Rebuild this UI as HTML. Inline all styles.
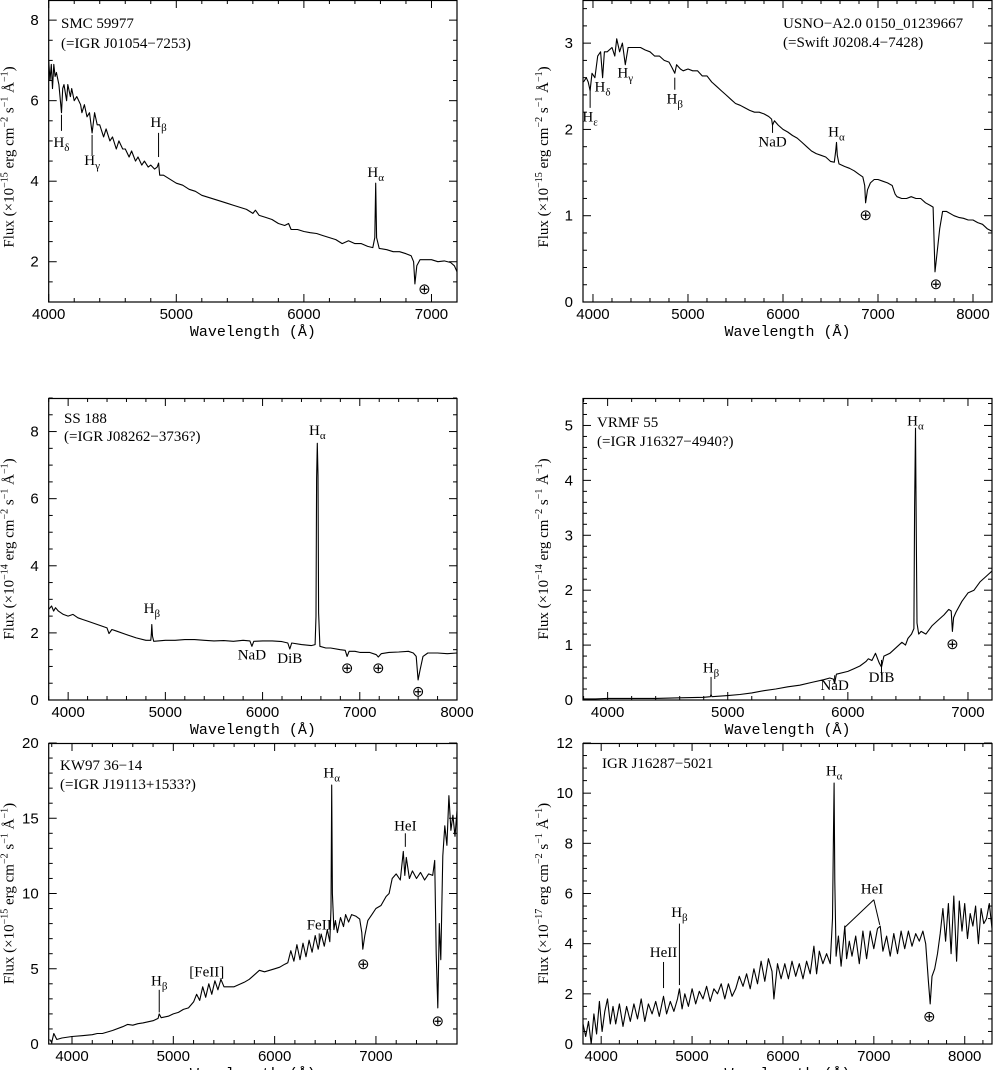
<!DOCTYPE html>
<html><head><meta charset="utf-8">
<style>
html,body{margin:0;padding:0;background:#fff;}
svg{display:block;}
text{font-family:"Liberation Serif",serif;fill:#000;}
.tk{font-size:15px;font-family:"Liberation Sans",sans-serif;}
.ti{font-size:15px;font-family:"Liberation Serif",serif;}
.yt{font-size:15px;font-family:"Liberation Serif",serif;}
.an{font-size:15px;font-family:"Liberation Serif",serif;}
.ax{font-size:15px;font-family:"Liberation Mono",monospace;}
</style></head>
<body>
<svg id="fig" width="993" height="1070" viewBox="0 0 993 1070" xmlns="http://www.w3.org/2000/svg"></svg>
<script>
// ---- Panel 1: SMC 59977 ----
const p1Wave = [4000,4010,4020,4030,4040,4050,4060,4080,4100,4110,4120,4140,4150,4170,4180,4200,4220,4250,4260,4280,4300,4320,4340,4360,4380,4400,4430,4450,4480,4500,4530,4550,4580,4600,4630,4650,4680,4700,4730,4750,4780,4800,4830,4850,4861,4870,4900,4950,5000,5050,5100,5150,5200,5250,5300,5350,5400,5450,5500,5550,5600,5620,5650,5700,5750,5800,5850,5880,5900,5950,6000,6050,6100,6150,6200,6250,6300,6350,6400,6450,6500,6540,6556,6563,6570,6590,6650,6700,6750,6800,6840,6860,6870,6885,6910,6950,7000,7050,7100,7150,7180,7200];
const p1Flux = [7.0,6.5,6.9,6.3,6.9,6.6,6.7,6.4,5.7,6.3,6.4,6.0,6.4,6.1,6.3,6.0,6.1,5.9,5.7,5.9,5.6,5.7,5.2,5.7,5.4,5.4,5.1,5.3,5.0,5.1,4.8,5.0,4.8,4.8,4.6,4.75,4.5,4.6,4.4,4.5,4.35,4.4,4.3,4.35,4.45,4.15,4.15,4.05,3.95,3.9,3.8,3.75,3.65,3.6,3.55,3.5,3.45,3.4,3.35,3.3,3.2,3.28,3.15,3.1,3.05,2.95,2.9,2.95,2.8,2.8,2.75,2.72,2.7,2.65,2.6,2.55,2.45,2.52,2.45,2.45,2.38,2.35,2.6,3.95,2.6,2.33,2.3,2.25,2.25,2.2,2.15,2.0,1.45,1.9,2.05,2.05,2.05,2.0,2.02,1.98,1.9,1.75];
// ---- Panel 2: USNO-A2.0 ----
const p2Wave = [3900,3930,3950,3970,3990,4020,4050,4080,4101,4120,4150,4200,4230,4250,4280,4310,4340,4370,4400,4450,4500,4550,4600,4650,4700,4750,4800,4830,4861,4880,4920,4950,5000,5050,5100,5150,5200,5250,5300,5350,5400,5450,5500,5550,5600,5650,5700,5750,5800,5850,5880,5890,5910,5950,6000,6050,6100,6150,6200,6250,6300,6350,6400,6450,6500,6540,6555,6563,6572,6590,6650,6700,6750,6800,6840,6860,6870,6890,6920,6960,7000,7050,7100,7150,7180,7200,7250,7300,7350,7400,7450,7500,7550,7580,7600,7620,7650,7680,7720,7800,7850,7900,7950,8000,8050,8100,8150,8200];
const p2Flux = [2.55,2.6,2.55,2.45,2.65,2.6,2.85,2.9,2.6,2.9,2.9,2.95,2.85,3.05,2.9,3.0,2.75,2.95,2.95,2.95,2.95,2.92,2.9,2.85,2.85,2.8,2.78,2.72,2.65,2.75,2.7,2.68,2.7,2.68,2.68,2.62,2.62,2.55,2.5,2.45,2.4,2.35,2.3,2.28,2.25,2.22,2.2,2.2,2.18,2.15,2.12,2.05,2.1,2.05,2.0,1.97,1.93,1.9,1.85,1.8,1.75,1.72,1.7,1.68,1.63,1.62,1.75,1.85,1.7,1.6,1.57,1.55,1.52,1.48,1.45,1.35,1.15,1.3,1.38,1.42,1.42,1.4,1.38,1.35,1.25,1.22,1.2,1.2,1.22,1.2,1.2,1.15,1.12,1.1,0.35,0.55,0.85,1.05,1.05,1.0,0.98,0.97,0.95,0.95,0.92,0.9,0.85,0.82];
// ---- Panel 3: SS 188 ----
const p3Wave = [3800,3830,3850,3870,3900,3950,4000,4050,4100,4150,4200,4300,4400,4420,4450,4500,4600,4700,4800,4850,4855,4861,4868,4880,5000,5100,5200,5300,5400,5500,5600,5700,5800,5870,5890,5910,6000,6100,6200,6260,6280,6300,6400,6500,6540,6550,6556,6563,6570,6576,6590,6650,6700,6800,6850,6870,6890,6950,7000,7100,7170,7190,7220,7300,7400,7500,7550,7580,7600,7620,7650,7700,7800,7900,8000];
const p3Flux = [2.7,2.8,2.65,2.75,2.65,2.55,2.5,2.55,2.45,2.4,2.35,2.25,2.15,1.98,2.1,2.05,1.95,1.85,1.78,1.78,1.95,2.25,1.9,1.75,1.78,1.78,1.8,1.8,1.78,1.76,1.77,1.75,1.78,1.76,1.6,1.75,1.76,1.76,1.74,1.7,1.52,1.7,1.65,1.62,1.65,2.5,6.6,7.65,6.7,2.6,1.6,1.55,1.55,1.5,1.48,1.3,1.45,1.45,1.42,1.42,1.35,1.28,1.38,1.42,1.43,1.45,1.4,1.3,0.6,0.9,1.3,1.4,1.4,1.38,1.4];
// ---- Panel 4: VRMF 55 ----
const p4Wave = [3800,3900,4000,4200,4400,4600,4800,4855,4861,4868,5000,5100,5200,5300,5400,5500,5600,5700,5800,5850,5880,5890,5905,6000,6050,6100,6150,6170,6200,6230,6260,6280,6300,6350,6400,6450,6480,6500,6530,6550,6556,6563,6570,6576,6590,6610,6650,6700,6750,6800,6840,6860,6870,6880,6900,6950,7000,7050,7100,7150,7200];
const p4Flux = [0.02,0.02,0.03,0.03,0.03,0.04,0.05,0.06,0.1,0.06,0.08,0.1,0.13,0.17,0.2,0.24,0.27,0.32,0.37,0.4,0.38,0.3,0.47,0.52,0.57,0.62,0.7,0.75,0.72,0.85,0.68,0.6,0.8,0.85,0.95,1.05,1.0,1.12,1.2,1.3,3.5,4.95,3.0,1.4,1.2,1.25,1.2,1.35,1.45,1.55,1.65,1.62,1.25,1.5,1.6,1.8,1.95,2.0,2.15,2.25,2.35];
// ---- Panel 5: KW97 36-14 ----
const p5Wave = [3780,3800,3820,3850,3900,4000,4100,4200,4250,4300,4400,4500,4550,4600,4650,4700,4800,4850,4861,4880,4950,5000,5050,5100,5150,5200,5230,5260,5290,5320,5350,5380,5410,5440,5470,5500,5600,5700,5750,5800,5850,5900,5950,6000,6050,6100,6130,6160,6190,6220,6250,6280,6310,6340,6370,6400,6430,6460,6490,6520,6545,6556,6563,6570,6585,6600,6620,6650,6680,6700,6730,6760,6800,6840,6860,6870,6890,6920,6960,7000,7050,7100,7130,7160,7200,7240,7270,7285,7300,7330,7360,7400,7440,7480,7520,7560,7580,7595,7610,7625,7640,7660,7680,7700,7720,7740,7760,7780,7800];
const p5Flux = [0.3,0.1,0.7,0.3,0.4,0.5,0.55,0.62,0.7,0.7,0.9,1.15,1.3,1.25,1.35,1.4,1.55,1.7,2.0,1.75,1.85,2.0,2.1,2.3,2.4,2.8,3.3,2.9,3.8,3.1,4.0,3.3,4.2,3.6,4.3,3.8,3.8,4.1,4.3,4.6,4.9,4.8,4.9,5.0,5.1,5.3,5.4,6.2,5.5,6.6,5.6,6.7,5.8,6.9,6.1,7.2,6.3,7.3,6.5,7.6,6.8,9.0,17.2,10.0,7.6,8.2,7.4,8.4,7.8,8.6,8.1,8.6,8.5,8.3,7.4,6.3,7.2,8.2,8.6,9.0,9.2,9.8,10.0,11.0,11.3,10.9,12.8,11.2,12.4,11.0,11.5,11.0,11.4,10.9,11.3,11.2,12.2,6.0,2.4,8.0,5.6,12.5,14.5,13.2,16.5,14.2,15.2,13.8,15.5];
// ---- Panel 6: IGR J16287-5021 ----
const p6Wave = [3800,3830,3860,3890,3920,3950,3980,4010,4040,4070,4100,4130,4160,4200,4240,4280,4320,4360,4400,4440,4480,4520,4560,4600,4640,4686,4720,4760,4800,4840,4861,4890,4920,4960,5000,5040,5080,5120,5160,5200,5240,5280,5320,5360,5400,5440,5480,5520,5560,5600,5640,5680,5720,5760,5800,5840,5880,5900,5940,5980,6020,6060,6100,6140,6180,6220,6260,6300,6340,6370,6400,6440,6480,6520,6545,6556,6563,6570,6585,6610,6640,6680,6700,6730,6760,6800,6840,6880,6920,6960,7000,7040,7070,7100,7140,7180,7220,7260,7300,7340,7380,7420,7460,7500,7540,7570,7600,7620,7640,7670,7700,7730,7760,7790,7820,7850,7880,7910,7940,7970,8000,8030,8060,8090,8120,8150,8180,8210,8240,8270,8300];
const p6Flux = [0.8,0.3,0.9,0.0,1.2,0.4,1.7,0.5,1.3,1.8,0.8,1.5,0.8,1.6,0.7,1.5,0.9,1.6,1.0,1.8,0.9,1.6,1.2,1.7,1.1,1.9,1.2,1.7,1.3,1.8,2.2,1.4,2.0,1.5,2.2,1.6,2.1,1.8,2.3,1.7,2.2,2.0,2.4,1.8,2.4,1.9,2.2,2.7,2.3,2.8,2.2,3.0,2.4,3.3,2.5,3.4,2.9,1.8,3.2,2.6,3.2,2.6,3.3,2.7,3.2,2.6,3.3,2.8,3.9,2.8,3.7,3.2,3.6,3.2,5.0,8.5,10.4,6.5,3.5,4.3,3.1,4.7,3.4,4.1,3.5,4.3,3.2,4.5,3.4,4.5,3.8,4.6,4.7,3.7,4.3,3.5,4.4,3.6,4.5,3.8,4.5,3.9,4.4,4.1,4.5,4.0,2.5,1.6,2.7,3.0,3.6,4.4,5.4,4.1,5.6,3.6,5.9,3.3,5.7,4.5,5.6,4.2,5.2,4.7,5.5,4.0,5.4,4.8,5.0,5.6,4.6];

const panels = [
 {id:'smc-59977', x0:48.7,x1:457,y0:0,y1:302, xmin:4000,xmax:7200, ymin:1,ymax:8.5, yMaj:2, yMin:0.5, yTicks:[2,4,6,8], xTicks:[4000,5000,6000,7000],
  wave:p1Wave, flux:p1Flux, exp:'−15',
  title:['SMC 59977','(=IGR J01054−7253)'], tx:61, ty:[28,48],
  ann:[{x:4100,t:'H',s:'δ',tb:4.85,l:[5.65,5.25]},{x:4340,t:'H',s:'γ',tb:4.4,l:[5.15,4.65]},{x:4861,t:'H',s:'β',tb:5.35,l:[5.2,4.6]},{x:6563,t:'H',s:'α',tb:4.1},{x:6945,t:'⊕',tb:1.2}]},
 {id:'usno-a2', x0:583,x1:992,y0:0,y1:302, xmin:3895,xmax:8200, ymin:0,ymax:3.5, yMaj:1, yMin:0.2, yTicks:[0,1,2,3], xTicks:[4000,5000,6000,7000,8000],
  wave:p2Wave, flux:p2Flux, exp:'−15',
  title:['USNO−A2.0 0150_01239667','(=Swift J0208.4−7428)'], tx:783, ty:[28,47],
  ann:[{x:3970,t:'H',s:'ε',tb:2.09,l:[2.48,2.25]},{x:4101,t:'H',s:'δ',tb:2.44},{x:4340,t:'H',s:'γ',tb:2.6},{x:4861,t:'H',s:'β',tb:2.3,l:[2.6,2.46]},{x:5890,t:'NaD',tb:1.8,l:[2.06,1.96]},{x:6563,t:'H',s:'α',tb:1.92},{x:6870,t:'⊕',tb:0.95},{x:7610,t:'⊕',tb:0.15}]},
 {id:'ss-188', x0:48.7,x1:457,y0:398,y1:700, xmin:3800,xmax:8000, ymin:0,ymax:9, yMaj:2, yMin:0.5, yTicks:[0,2,4,6,8], xTicks:[4000,5000,6000,7000,8000],
  wave:p3Wave, flux:p3Flux, exp:'−14',
  title:['SS 188','(=IGR J08262−3736?)'], tx:64, ty:[423,441],
  ann:[{x:4861,t:'H',s:'β',tb:2.6},{x:5890,t:'NaD',tb:1.2},{x:6280,t:'DiB',tb:1.1},{x:6563,t:'H',s:'α',tb:7.9},{x:6870,t:'⊕',tb:0.8},{x:7190,t:'⊕',tb:0.8},{x:7600,t:'⊕',tb:0.1}]},
 {id:'vrmf-55', x0:583,x1:992,y0:398,y1:700, xmin:3795,xmax:7200, ymin:0,ymax:5.5, yMaj:1, yMin:0.2, yTicks:[0,1,2,3,4,5], xTicks:[4000,5000,6000,7000],
  wave:p4Wave, flux:p4Flux, exp:'−14',
  title:['VRMF 55','(=IGR J16327−4940?)'], tx:597, ty:[427,446],
  ann:[{x:4861,t:'H',s:'β',tb:0.5,l:[0.42,0.09]},{x:5890,t:'NaD',tb:0.18,l:[0.45,0.32]},{x:6280,t:'DIB',tb:0.33,l:[0.73,0.45]},{x:6563,t:'H',s:'α',tb:5.0},{x:6870,t:'⊕',tb:0.93}]},
 {id:'kw97-36-14', x0:48.7,x1:457,y0:743,y1:1044, xmin:3770,xmax:7800, ymin:0,ymax:20, yMaj:5, yMin:1, yTicks:[0,5,10,15,20], xTicks:[4000,5000,6000,7000],
  wave:p5Wave, flux:p5Flux, exp:'−15',
  title:['KW97 36−14','(=IGR J19113+1533?)'], tx:60, ty:[770,789],
  ann:[{x:4861,t:'H',s:'β',tb:3.9,l:[3.6,2.1]},{x:5330,t:'[FeII]',tb:4.5},{x:6440,t:'FeII',tb:7.6,l:[7.35,6.6]},{x:6563,t:'H',s:'α',tb:17.7},{x:7290,t:'HeI',tb:14.2,l:[14.0,13.1]},{x:6875,t:'⊕',tb:5.0},{x:7610,t:'⊕',tb:1.2}]},
 {id:'igr-j16287', x0:583,x1:992,y0:743,y1:1044, xmin:3800,xmax:8300, ymin:0,ymax:12, yMaj:2, yMin:0.5, yTicks:[0,2,4,6,8,10,12], xTicks:[4000,5000,6000,7000,8000],
  wave:p6Wave, flux:p6Flux, exp:'−17',
  title:['IGR J16287−5021'], tx:602, ty:[768],
  ann:[{x:4686,t:'HeII',tb:3.47,l:[3.27,2.23]},{x:4861,t:'H',s:'β',tb:5.07,l:[4.8,2.35]},{x:6563,t:'H',s:'α',tb:10.7},{x:6980,t:'HeI',tb:6.0},{x:7610,t:'⊕',tb:0.9}],
  heiFrom:[7000,5.75], heiTo:[[6680,4.65],[7065,4.75]]}
];

const NS='http://www.w3.org/2000/svg';
const svg=document.getElementById('fig');
function mk(tag,attrs,parent){const e=document.createElementNS(NS,tag);for(const k in attrs)e.setAttribute(k,attrs[k]);(parent||svg).appendChild(e);return e;}

panels.forEach(p=>{
  const g=mk('g',{});
  
  
  const sx=w=>p.x0+(w-p.xmin)/(p.xmax-p.xmin)*(p.x1-p.x0);
  const sy=v=>p.y1-(v-p.ymin)/(p.ymax-p.ymin)*(p.y1-p.y0);
  const cid='clip-'+p.id;
  const cp=mk('clipPath',{id:cid},g);
  mk('rect',{x:p.x0,y:p.y0,width:p.x1-p.x0,height:p.y1-p.y0},cp);
  let d='';
  p.wave.forEach((w,i)=>{d+=(i?'L':'M')+sx(w).toFixed(1)+','+sy(p.flux[i]).toFixed(1);});
  const path=mk('path',{d:d,fill:'none',stroke:'#000','stroke-width':'1.1','stroke-linejoin':'round','clip-path':'url(#'+cid+')'},g);
  
  
  const fr=mk('rect',{x:p.x0,y:p.y0+0.5,width:p.x1-p.x0,height:p.y1-p.y0-0.5,fill:'none',stroke:'#000','stroke-width':'1.2'},g);
  
  
  for(let w=Math.ceil(p.xmin/200)*200; w<=p.xmax; w+=200){
    const X=sx(w), maj=(w%1000===0), L=maj?8:4;
    mk('line',{x1:X,y1:p.y1,x2:X,y2:p.y1-L,stroke:'#000','stroke-width':1},g);
    mk('line',{x1:X,y1:p.y0,x2:X,y2:p.y0+L,stroke:'#000','stroke-width':1},g);
  }
  p.xTicks.forEach(w=>{
    const t=mk('text',{x:sx(w),y:p.y1+17,'text-anchor':'middle',class:'tk'},g);
    t.textContent=w;
    
    
  });
  const n=Math.floor((p.ymax-p.ymin)/p.yMin+1e-6);
  for(let i=0;i<=n;i++){
    const v=p.ymin+i*p.yMin; if(v>p.ymax+1e-6) continue; const Y=sy(v);
    const maj=Math.abs(v/p.yMaj-Math.round(v/p.yMaj))<1e-6, L=maj?8:4;
    mk('line',{x1:p.x0,y1:Y,x2:p.x0+L,y2:Y,stroke:'#000','stroke-width':1},g);
    mk('line',{x1:p.x1,y1:Y,x2:p.x1-L,y2:Y,stroke:'#000','stroke-width':1},g);
  }
  p.yTicks.forEach(v=>{
    const t=mk('text',{x:p.x0-10,y:sy(v)+5,'text-anchor':'end',class:'tk'},g);
    t.textContent=v;
    
    
  });
  const xt=mk('text',{x:(p.x0+p.x1)/2,y:p.y1+34,'text-anchor':'middle',class:'ax'},g);
  xt.textContent='Wavelength (Å)';
  
  
  const cy=(p.y0+p.y1)/2+(p.y0===0?6:0), cx=p.x0-35;
  const yt=mk('text',{x:cx,y:cy,'text-anchor':'middle',transform:'rotate(-90 '+cx+' '+cy+')',class:'yt'},g);
  
  
  yt.innerHTML='Flux (×10<tspan font-size="10" dy="-6">'+p.exp+'</tspan><tspan dy="6"> erg cm</tspan><tspan font-size="10" dy="-6">−2</tspan><tspan dy="6"> s</tspan><tspan font-size="10" dy="-6">−1</tspan><tspan dy="6"> Å</tspan><tspan font-size="10" dy="-6">−1</tspan><tspan dy="6">)</tspan>';
  p.title.forEach((s,i)=>{
    const t=mk('text',{x:p.tx,y:p.ty[i],'text-anchor':'start',class:'ti'},g);
    t.textContent=s;
    
    
  });
  p.ann.forEach(a=>{
    const X=sx(a.x);
    if(a.l){const ln=mk('line',{x1:X,y1:sy(a.l[0]),x2:X,y2:sy(a.l[1]),stroke:'#000','stroke-width':1},g);
      
      }
    const t=mk('text',{x:X,y:sy(a.tb),'text-anchor':'middle',class:'an'},g);
    if(a.t==='⊕'){t.setAttribute('font-size','20');t.setAttribute('font-family','DejaVu Sans, sans-serif');}
    t.innerHTML=a.t+(a.s?'<tspan font-size="11" dy="4">'+a.s+'</tspan>':'');
    
    
  });
  if(p.heiFrom){
    p.heiTo.forEach(q=>{
      const ln=mk('line',{x1:sx(p.heiFrom[0]),y1:sy(p.heiFrom[1]),x2:sx(q[0]),y2:sy(q[1]),stroke:'#000','stroke-width':1},g);
      
      
    });
  }
});
</script>
</body></html>
